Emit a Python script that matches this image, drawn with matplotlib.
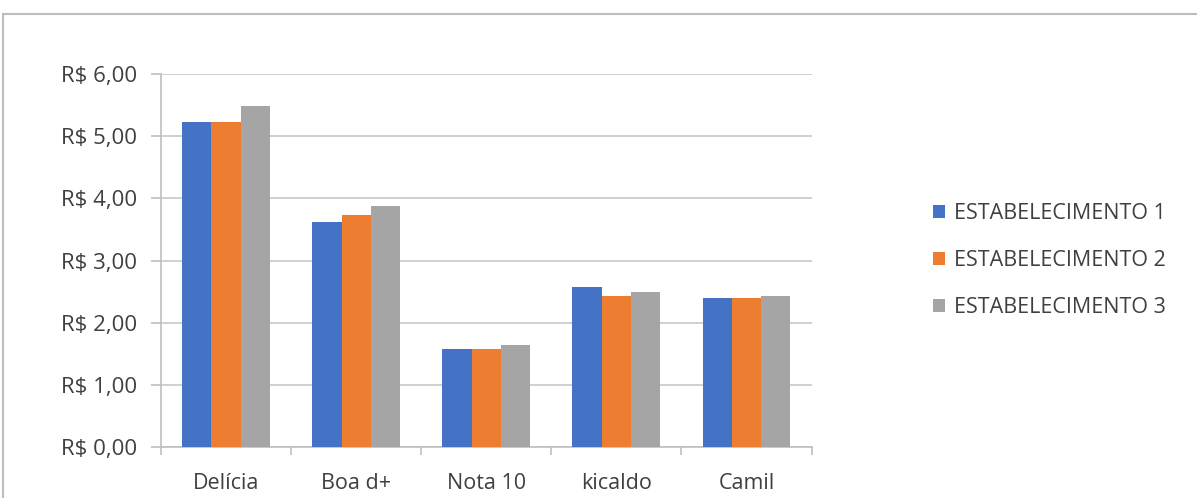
import matplotlib.pyplot as plt
import matplotlib.patches as mpatches
import numpy as np

categories = ["Delícia", "Boa d+", "Nota 10", "kicaldo", "Camil"]
estab1 = [5.23, 3.62, 1.58, 2.58, 2.39]
estab2 = [5.23, 3.73, 1.58, 2.43, 2.39]
estab3 = [5.48, 3.88, 1.64, 2.49, 2.43]
series_names = ["ESTABELECIMENTO 1", "ESTABELECIMENTO 2", "ESTABELECIMENTO 3"]
colors = ["#4472c4", "#ed7d31", "#a5a5a5"]

plt.rcParams['font.family'] = ['Open Sans', 'DejaVu Sans']

fig = plt.figure(figsize=(11.97, 4.98), dpi=100)
ax = fig.add_axes([0.1345, 0.1024, 0.5435, 0.749])

# chart frame (cut off on right and bottom like the screenshot)
fig.patches.append(mpatches.Rectangle((3 / 1197, -0.1), 1.2, 1 - 14 / 498 + 0.1,
                                      transform=fig.transFigure, fill=False,
                                      edgecolor="#bdbdbd", linewidth=1.5, clip_on=False))

x = np.arange(len(categories))
w = 0.225
for i, (vals, name, c) in enumerate(zip([estab1, estab2, estab3], series_names, colors)):
    ax.bar(x + (i - 1) * w, vals, width=w, color=c, label=name, zorder=3)

ax.set_xlim(-0.5, len(categories) - 0.5)
ax.set_ylim(0, 6)
ax.set_yticks(np.arange(0, 7, 1))
ax.set_yticklabels([f"R$ {v:.2f}".replace(".", ",") for v in np.arange(0, 7, 1)])
ax.yaxis.grid(True, color="#c8c8c8", linewidth=1.2, zorder=0)

ax.set_xticks(x)
ax.set_xticklabels(categories)
ax.set_xticks(np.arange(-0.5, len(categories), 1), minor=True)
ax.tick_params(axis="x", which="major", length=0, pad=19, labelsize=15.5, labelcolor="#404040")
ax.tick_params(axis="x", which="minor", length=6, color="#bfbfbf", width=1.2)
ax.tick_params(axis="y", length=7, color="#bfbfbf", width=1.2, labelsize=16,
               labelcolor="#404040", pad=10)

for s in ["top", "right"]:
    ax.spines[s].set_visible(False)
for s in ["left", "bottom"]:
    ax.spines[s].set_color("#bfbfbf")
    ax.spines[s].set_linewidth(1.2)

leg = fig.legend(loc="center left", bbox_to_anchor=(0.763, 0.477), frameon=False,
                 fontsize=15.5, handlelength=0.55, handleheight=0.55, handletextpad=0.45,
                 labelspacing=1.2)
for t in leg.get_texts():
    t.set_color("#404040")

fig.savefig("out.png", dpi=100)
